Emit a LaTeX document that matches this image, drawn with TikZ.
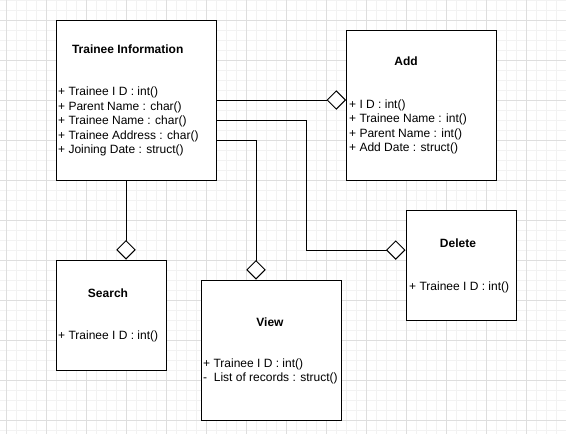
\documentclass[tikz,border=0pt]{standalone}
\usepackage{fontspec}
\setmainfont{Liberation Sans}
\usetikzlibrary{arrows.meta}
\tikzset{
  cls/.style={draw=black, line width=1pt, fill=white, inner sep=0pt},
  ttl/.style={font=\fontsize{12}{14.5}\selectfont\bfseries, inner sep=0pt, anchor=center},
  attr/.style={font=\fontsize{12}{14.5}\selectfont, inner sep=0pt, align=left, anchor=north west},
  conn/.style={draw=black, line width=1pt, -{Diamond[open, length=19.5pt, width=19.5pt, fill=white]}},
  minorgrid/.style={draw={rgb,255:red,242;green,242;blue,242}, line width=1pt},
  majorgrid/.style={draw={rgb,255:red,222;green,222;blue,222}, line width=1pt}
}
\begin{document}
\begin{tikzpicture}[x=1pt, y=-1pt]
\useasboundingbox (0,0) rectangle (566,434);
\fill[white] (0,0) rectangle (566,434);
% grid
\foreach \gx in {6,16,...,566} \draw[minorgrid] (\gx,0) -- (\gx,434);
\foreach \gy in {0,10,...,430} \draw[minorgrid] (0,\gy) -- (566,\gy);
\foreach \gx in {6,46,...,566} \draw[majorgrid] (\gx,0) -- (\gx,434);
\foreach \gy in {20,60,...,420} \draw[majorgrid] (0,\gy) -- (566,\gy);

% class boxes
\node[cls, minimum width=160pt, minimum height=160pt] (ti) at (136,100) {};
\node[cls, minimum width=150pt, minimum height=150pt] (add) at (421.5,105) {};
\node[cls, minimum width=110pt, minimum height=110pt] (del) at (461,265) {};
\node[cls, minimum width=110pt, minimum height=110pt] (srch) at (111,315) {};
\node[cls, minimum width=140pt, minimum height=140pt] (view) at (271.5,350) {};

% titles
\node[ttl] (tit) at (127.7,49) {Trainee Information};
\node[ttl] (addt) at (406,61) {Add};
\node[ttl] (delt) at (458,243) {Delete};
\node[ttl] (srcht) at (108,293) {Search};
\node[ttl] (viewt) at (270,322) {View};

% attributes
\node[attr] (tia) at (58,87) {+ Trainee I D : int()\\+ Parent Name : char()\\+ Trainee Name : char()\\+ Trainee Address : char()\\+ Joining Date : struct()};
\node[attr] (adda) at (349,99.4) {+ I D : int()\\+ Trainee Name : int()\\+ Parent Name : int()\\+ Add Date : struct()};
\node[attr] (dela) at (409,281.4) {+ Trainee I D : int()};
\node[attr] (srcha) at (58,330.4) {+ Trainee I D : int()};
\node[attr] (viewa) at (203,358.4) {+ Trainee I D : int()\\-\ \ List of records : struct()};

% connectors
\draw[conn] (ti.east) -- (ti.east -| add.west);
\draw[conn] ([yshift=-20pt]ti.east) -- ++(90,0) |- ([yshift=15pt]del.west);
\draw[conn] ([yshift=-40pt]ti.east) -| ([xshift=-15.5pt]view.north);
\draw[conn] ([xshift=-10pt]ti.south) -- ([xshift=-10pt]ti.south |- srch.north);
\end{tikzpicture}
\end{document}
